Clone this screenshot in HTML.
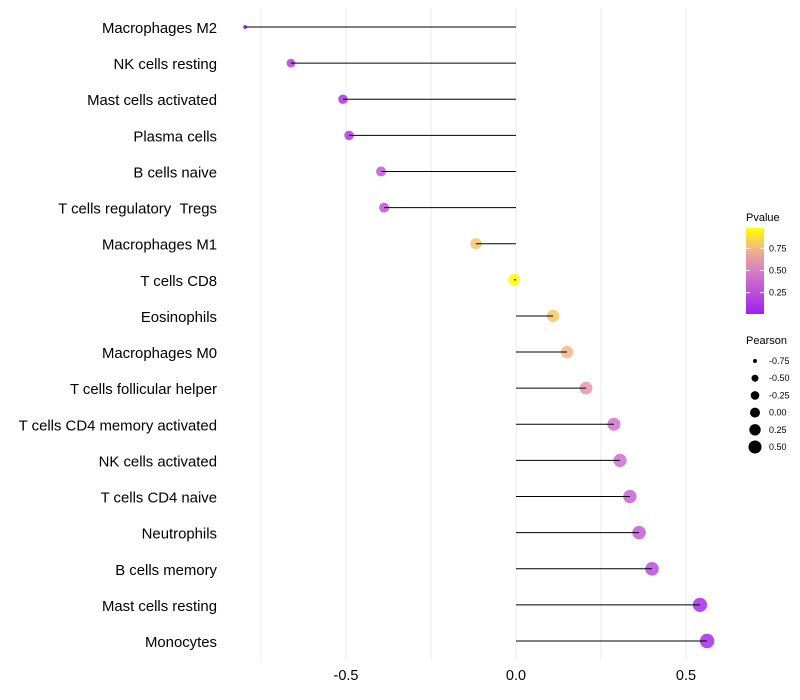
<!DOCTYPE html>
<html><head><meta charset="utf-8"><style>
body{margin:0;background:#fff;font-family:"Liberation Sans",sans-serif;}
svg{display:block}
</style></head><body>
<svg id="chart" width="800" height="700" xmlns="http://www.w3.org/2000/svg">
<defs><linearGradient id="pg" x1="0" y1="1" x2="0" y2="0">
<stop offset="0" stop-color="#A020F0"/><stop offset="0.5" stop-color="#D67DC6"/><stop offset="0.75" stop-color="#F0B48C"/><stop offset="1" stop-color="#FFFF00"/></linearGradient></defs>
<g id="grid"></g><g id="marks"></g><g id="labels"></g>
<g>
<text x="746" y="221" font-size="11" fill="#000">Pvalue</text>
<rect x="746" y="228" width="18" height="86" fill="url(#pg)"/>
<g id="pticks"></g>
</g>
<g id="slegend">
<text x="746" y="344" font-size="11" fill="#000">Pearson</text>
</g>
</svg>
<script>
const categories=["Macrophages M2","NK cells resting","Mast cells activated","Plasma cells","B cells naive","T cells regulatory\u00a0\u00a0Tregs","Macrophages M1","T cells CD8","Eosinophils","Macrophages M0","T cells follicular helper","T cells CD4 memory activated","NK cells activated","T cells CD4 naive","Neutrophils","B cells memory","Mast cells resting","Monocytes"];
const pearson=[-0.797,-0.662,-0.509,-0.491,-0.397,-0.388,-0.118,-0.006,0.109,0.15,0.206,0.288,0.306,0.335,0.362,0.4,0.541,0.562];
const pvalue=[0.03,0.15,0.12,0.14,0.3,0.28,0.8,0.99,0.82,0.76,0.62,0.45,0.42,0.36,0.32,0.24,0.07,0.06];
const xTicks=[-0.5,0.0,0.5];
const xGrid=[-0.75,-0.25,0.25,0.5];
const pTicks=[0.25,0.5,0.75];
const sizeTicks=[-0.75,-0.5,-0.25,0,0.25,0.5];
const legendR=[2,3.5,4.3,5,5.7,6.5];
const NS="http://www.w3.org/2000/svg";
const x=v=>516+v*340;
const y=i=>27+i*(641-27)/17;
const r=v=>v>-0.66?5.9+2.3*v:Math.max(2,4.4-(-0.66-v)*17);
function mk(t,a,p){const e=document.createElementNS(NS,t);for(const k in a)e.setAttribute(k,a[k]);p.appendChild(e);return e;}
function lerp(a,b,t){return a.map((c,i)=>Math.round(c+(b[i]-c)*t));}
const stops=[[0,[160,32,240]],[0.5,[214,125,198]],[0.75,[240,180,140]],[1,[255,255,0]]];
function col(p){for(let i=1;i<stops.length;i++){if(p<=stops[i][0]){const t=(p-stops[i-1][0])/(stops[i][0]-stops[i-1][0]);const c=lerp(stops[i-1][1],stops[i][1],t);return `rgb(${c})`;}}return "rgb(255,255,0)";}
const grid=document.getElementById('grid'),marks=document.getElementById('marks'),labels=document.getElementById('labels');
xGrid.concat(xTicks).forEach(v=>{const l=mk('line',{x1:x(v),x2:x(v),y1:8,y2:660,stroke:'#ebebeb','stroke-width':1},grid);

});
xTicks.forEach(v=>{const t=mk('text',{x:x(v),y:680,'font-size':14.5,'text-anchor':'middle',fill:'#000'},labels);t.textContent=v.toFixed(1);

});
categories.forEach((c,i)=>{
const t=mk('text',{x:217,y:y(i)+6,'font-size':14.9,'text-anchor':'end',fill:'#000'},labels);t.textContent=c;


const pt=mk('circle',{cx:x(pearson[i]),cy:y(i),r:r(pearson[i]),fill:col(pvalue[i]),'fill-opacity':0.85},marks);


const ln=mk('line',{x1:x(0),x2:x(pearson[i]),y1:y(i),y2:y(i),stroke:'#000','stroke-width':1},marks);


});
const pt=document.getElementById('pticks');
pTicks.forEach(v=>{const Y=313-(v-0.02)/0.96*85;
mk('line',{x1:746,x2:750,y1:Y,y2:Y,stroke:'#fff'},pt);mk('line',{x1:760,x2:764,y1:Y,y2:Y,stroke:'#fff'},pt);
const t=mk('text',{x:769,y:Y+3,'font-size':9,fill:'#000'},pt);t.textContent=v.toFixed(2);

});
const sl=document.getElementById('slegend');
sizeTicks.forEach((v,i)=>{const Y=361+i*17.2;
const c=mk('circle',{cx:755,cy:Y,r:legendR[i],fill:'#000'},sl);


const t=mk('text',{x:769,y:Y+3,'font-size':9,fill:'#000'},sl);t.textContent=v.toFixed(2);

});
</script>
</body></html>
